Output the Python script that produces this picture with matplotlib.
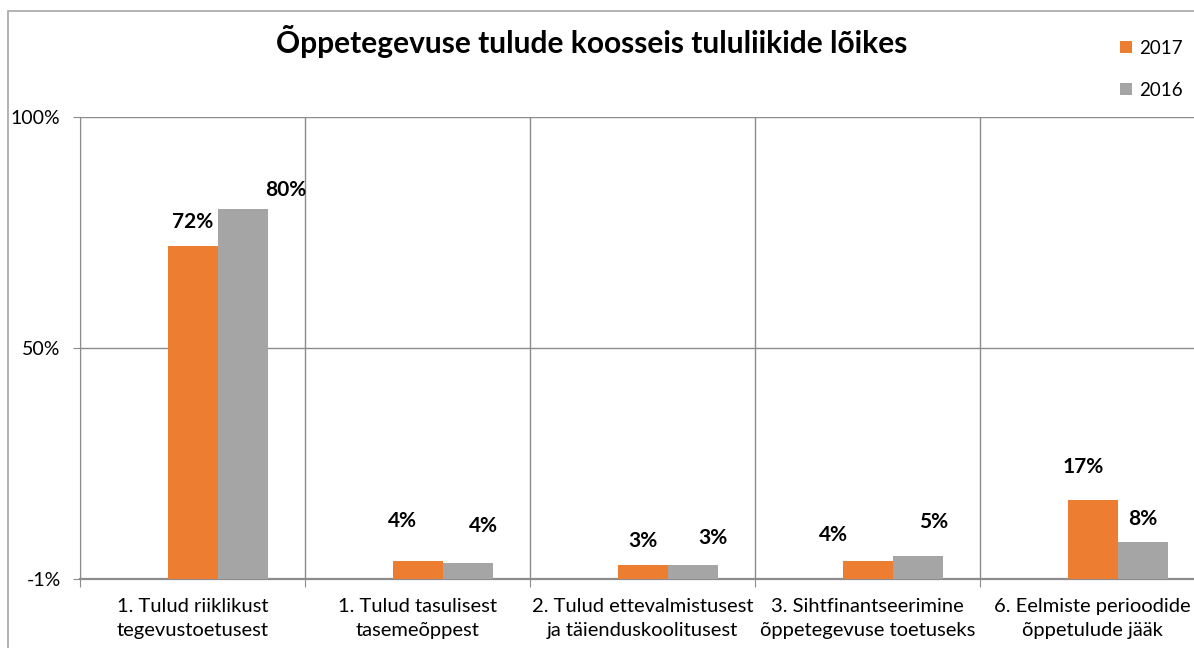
import matplotlib.pyplot as plt
import numpy as np
from matplotlib.patches import Rectangle

plt.rcParams['font.family'] = ['Lato', 'DejaVu Sans']

categories = ["1. Tulud riiklikust\ntegevustoetusest",
              "1. Tulud tasulisest\ntasemeõppest",
              "2. Tulud ettevalmistusest\nja täienduskoolitusest",
              "3. Sihtfinantseerimine\nõppetegevuse toetuseks",
              "6. Eelmiste perioodide\nõppetulude jääk"]
val_2017 = [72, 4, 3, 4, 17]
val_2016 = [80, 3.5, 3, 5, 8]
lab_2017 = ["72%", "4%", "3%", "4%", "17%"]
lab_2016 = ["80%", "4%", "3%", "5%", "8%"]
ytick_vals = [0, 50, 100]
ytick_labels = ["-1%", "50%", "100%"]

# hand-placed data label offsets (pixels) like in the original sheet
off_2017 = [(0, 24), (-15, 40), (0, 24), (-34, 26), (-9, 33)]
off_2016 = [(43, 19), (16, 37), (20, 27), (16, 34), (0, 23)]

orange = '#ED7D31'
grey = '#A5A5A5'
gridc = '#8C8C8C'

fig = plt.figure(figsize=(11.94, 6.48), dpi=100)
ax = fig.add_axes([80/1194, 1-579/648, 1125/1194, (579-117)/648])

x = np.arange(len(categories))
w = 50/225
b1 = ax.bar(x, val_2017, w, color=orange, label="2017", zorder=3)
b2 = ax.bar(x + w, val_2016, w, color=grey, label="2016", zorder=3)

for rect, lab, off in zip(b1, lab_2017, off_2017):
    ax.annotate(lab, (rect.get_x() + rect.get_width()/2, rect.get_height()),
                xytext=off, textcoords='offset pixels', ha='center', va='center',
                fontsize=15, fontweight='bold')
for rect, lab, off in zip(b2, lab_2016, off_2016):
    ax.annotate(lab, (rect.get_x() + rect.get_width()/2, rect.get_height()),
                xytext=off, textcoords='offset pixels', ha='center', va='center',
                fontsize=15, fontweight='bold')

ax.set_xlim(-0.5, len(categories) - 0.5)
ax.set_ylim(0, 100)

ax.set_yticks(ytick_vals)
ax.set_yticklabels(ytick_labels, fontsize=14)
ax.tick_params(axis='y', length=5, color=gridc, pad=9)
ax.yaxis.grid(True, color=gridc, linewidth=1)

ax.set_xticks(np.arange(len(categories) + 1) - 0.5)
ax.set_xticklabels([])
ax.set_xticks(x, minor=True)
ax.set_xticklabels(categories, minor=True, fontsize=14.5, linespacing=1.45)
ax.tick_params(axis='x', which='major', length=6, color=gridc)
ax.tick_params(axis='x', which='minor', length=0, pad=14)
ax.xaxis.grid(True, which='major', color=gridc, linewidth=1)
ax.set_axisbelow(True)

for s in ['top', 'right']:
    ax.spines[s].set_visible(False)
ax.spines['left'].set_color(gridc)
ax.spines['bottom'].set_color(gridc)
ax.spines['bottom'].set_linewidth(1.6)

fig.text(592/1194, 1-42/648, "Õppetegevuse tulude koosseis tululiikide lõikes",
         ha='center', va='center', fontsize=21.5, fontweight='bold')

fig.legend(handles=[b1, b2], loc='upper left', bbox_to_anchor=(1112/1194, 1-32/648),
           frameon=False, fontsize=13.5, handlelength=0.65, handleheight=0.65,
           handletextpad=0.4, labelspacing=1.35, borderaxespad=0)

# outer chart border
fig.patches.append(Rectangle((8/1194, -0.1), 1.2, 1.1 - 11/648,
                             transform=fig.transFigure, fill=False,
                             edgecolor='#A6A6A6', linewidth=1.2))

plt.savefig("out.png", dpi=100)
